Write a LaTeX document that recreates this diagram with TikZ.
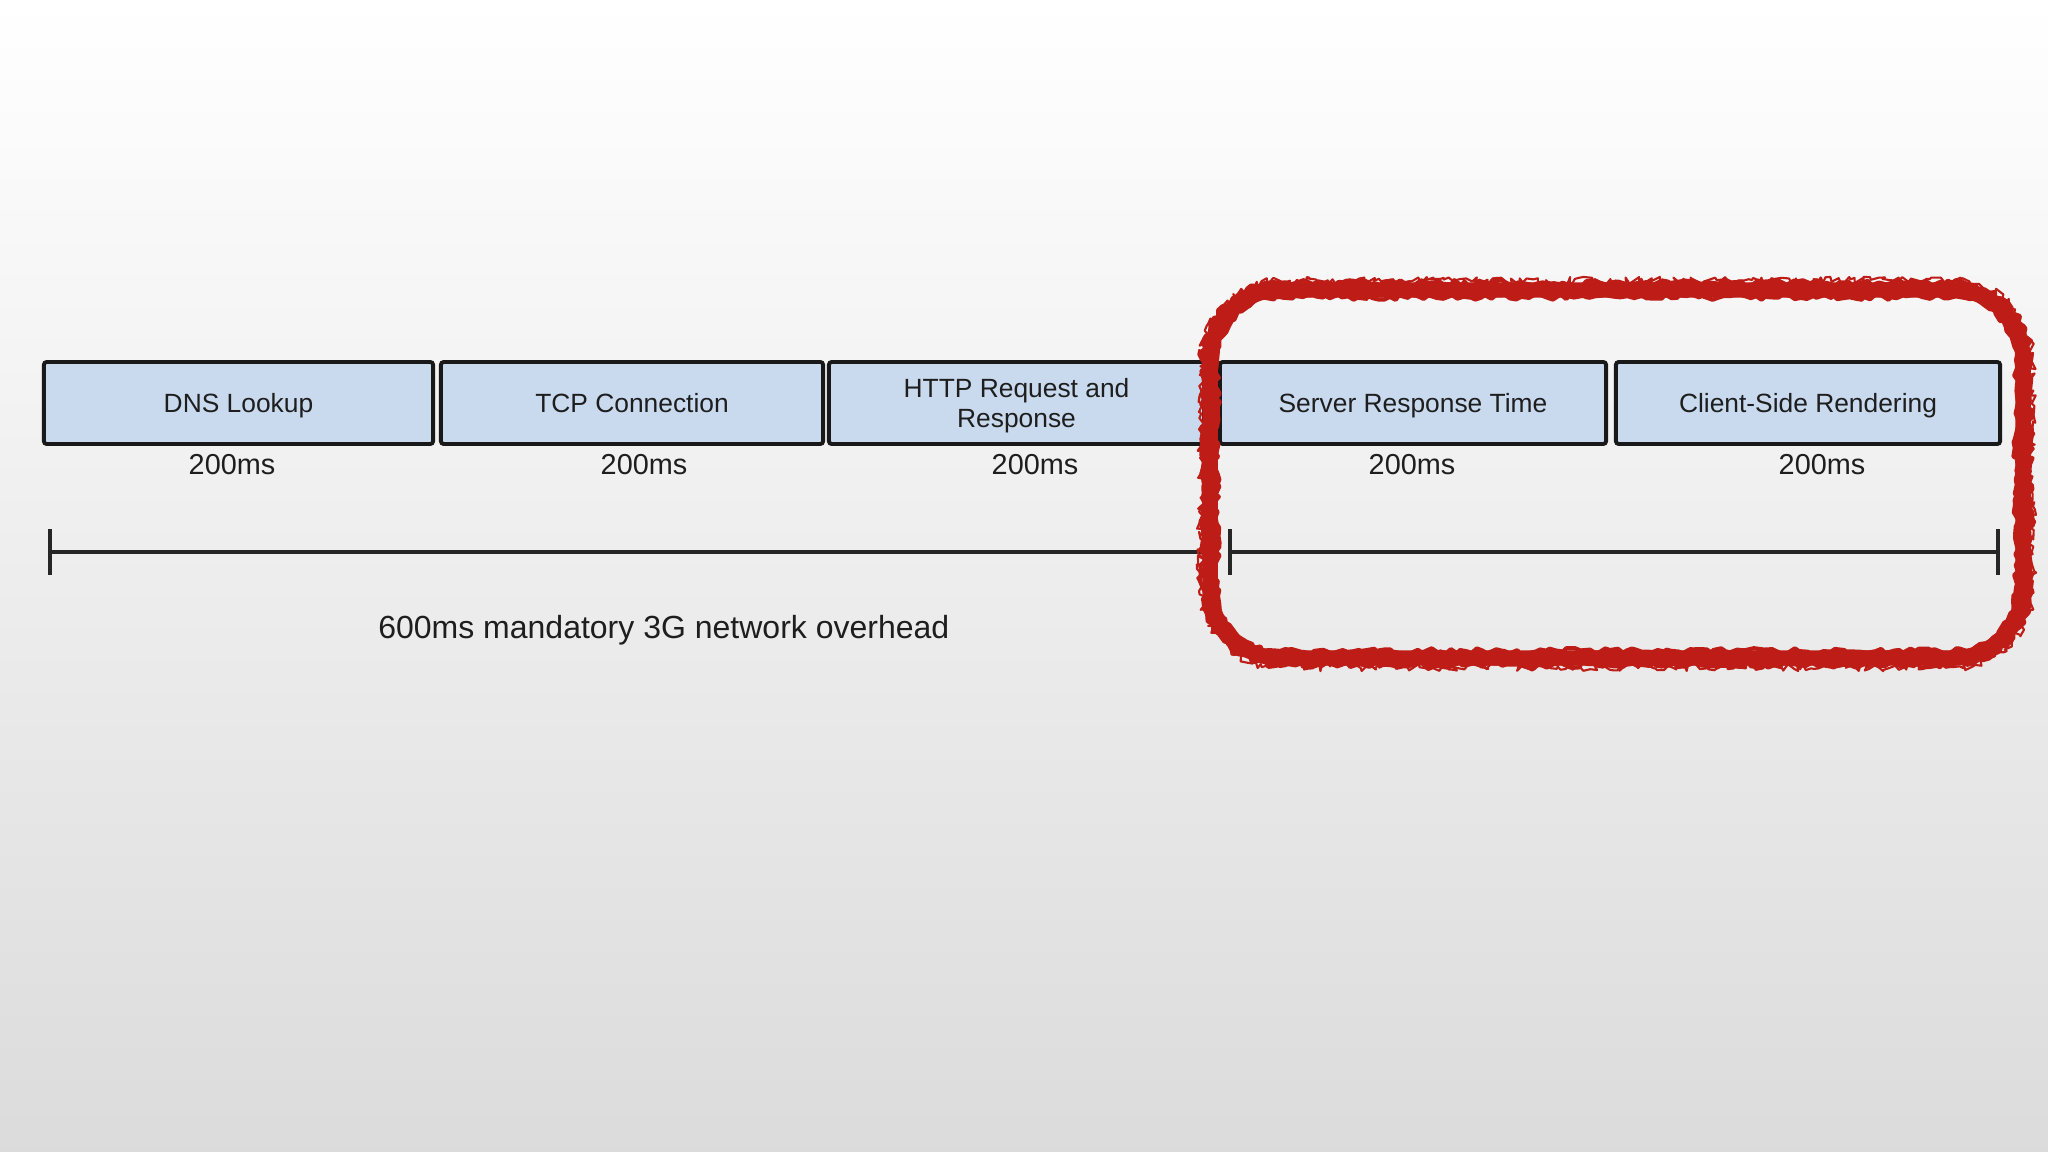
\documentclass[tikz,border=0pt]{standalone}
\usepackage{fontspec}
\setmainfont{Liberation Sans}
\usetikzlibrary{arrows.meta,decorations.pathmorphing,positioning}
\definecolor{boxblue}{RGB}{201,218,238}
\definecolor{inkgray}{RGB}{30,30,30}
\definecolor{markred}{RGB}{190,28,22}
\tikzset{every picture/.style={line width=0.75pt}}
\tikzset{
  phase/.style={draw=black!90, fill=boxblue, line width=1.1pt, rounded corners=0.8pt,
    minimum height=0.82cm, inner sep=0pt, text=inkgray, align=center, text depth=0pt,
    font=\fontsize{7.5}{8.6}\selectfont},
  dur/.style={text=inkgray, font=\fontsize{8.2}{9}\selectfont},
  span/.style={line width=1.1pt, black!85},
  scrawl/.style={markred, line join=round},
  % 红圈的路径（参数为向内偏移）
  ringpath/.style={insert path={
    (1280,{290+(#1)}) -- (1953,{290+(#1)})
    arc[start angle=270, end angle=360, radius={70-(#1)}]
    -- ({2023-(#1)},588)
    arc[start angle=0, end angle=90, radius={70-(#1)}]
    -- (1280,{658-(#1)})
    arc[start angle=90, end angle=180, radius={70-(#1)}]
    -- ({1210+(#1)},360)
    arc[start angle=180, end angle=270, radius={70-(#1)}]
    -- cycle}},
}

\begin{document}
\begin{tikzpicture}[x=0.01cm, y=-0.01cm]
    \pgfmathsetseed{7}
    % 背景
    \shade[top color=white, middle color=black!6, bottom color=black!14]
        (0,0) rectangle (2048,1152);
    \useasboundingbox (0,0) rectangle (2048,1152);

    % 各阶段
    \node[phase, minimum width=3.89cm] (dns)  at (238.5,403) {DNS Lookup};
    \node[phase, minimum width=3.82cm] (tcp)  at (632,403)   {TCP Connection};
    \node[phase, minimum width=3.75cm] (http) at (1016.5,403) {HTTP Request and\\Response};
    \node[phase, minimum width=3.86cm] (srv)  at (1413,403)  {Server Response Time};
    \node[phase, minimum width=3.84cm] (csr)  at (1808,403)  {Client-Side Rendering};

    % 耗时
    \node[dur, anchor=base] (tdns)  at (232,475)  {200ms};
    \node[dur, anchor=base] (ttcp)  at (644,475)  {200ms};
    \node[dur, anchor=base] (thttp) at (1035,475) {200ms};
    \node[dur, anchor=base] (tsrv)  at (1412,475) {200ms};
    \node[dur, anchor=base] (tcsr)  at (1822,475) {200ms};

    % 时间轴
    \coordinate (s0) at (48,552);
    \coordinate (s1) at (1212,552);
    \coordinate (s2) at (1228,552);
    \coordinate (s3) at (2000,552);
    \draw[span, {Bar[width=13pt]}-] (s0) -- (s1);
    \draw[span, {Bar[width=13pt]}-{Bar[width=13pt]}] (s2) -- (s3);

    \node[text=inkgray, font=\fontsize{9.1}{10}\selectfont, anchor=base west, inner sep=0pt]
        (overhead) at (377,638) {600ms mandatory 3G network overhead};

    % 红圈
    \draw[scrawl, line width=4.4pt] [ringpath=0];
    \foreach \o in {-7,7}
        \draw[scrawl, line width=1.2pt, decorate,
              decoration={random steps, segment length=1.5pt, amplitude=0.8pt}]
            [ringpath=\o];
    \draw[scrawl, line width=0.6pt, decorate,
          decoration={random steps, segment length=1pt, amplitude=1.2pt}]
        [ringpath=-9];
\end{tikzpicture}
\end{document}
